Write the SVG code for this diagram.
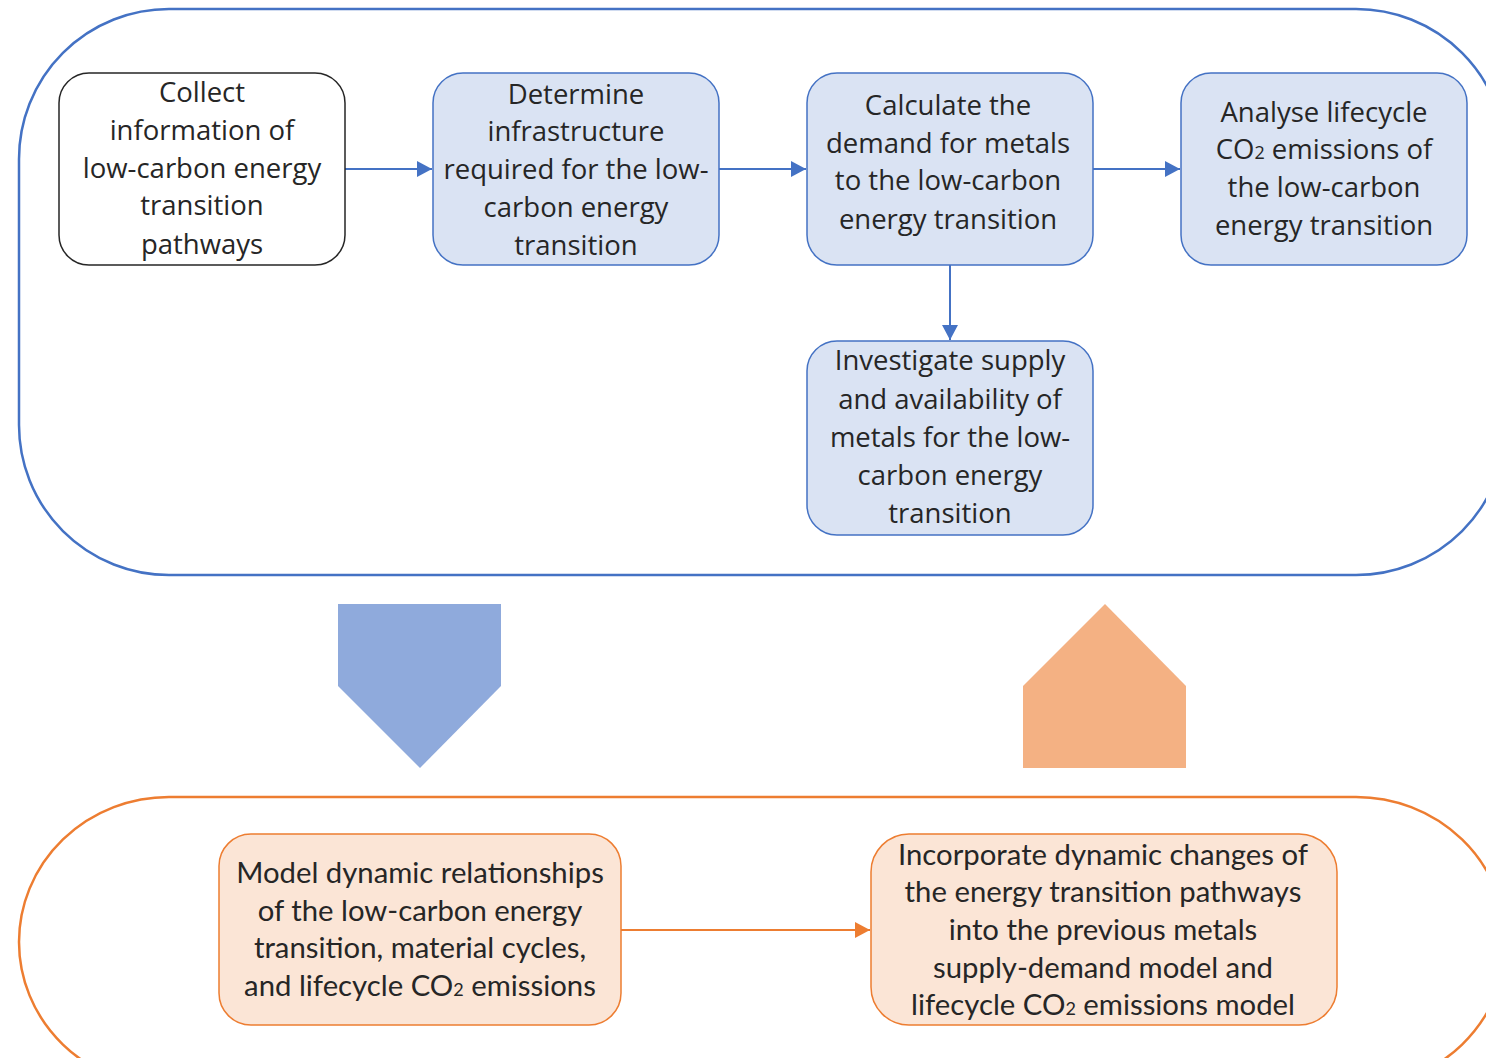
<svg xmlns="http://www.w3.org/2000/svg" width="1486" height="1058" viewBox="0 0 1486 1058">
<style>
.top{font-family:"Open Sans","Noto Sans",sans-serif;font-size:27.5px;fill:#262626;text-anchor:middle}
.bot{font-family:"Lato","Noto Sans",sans-serif;font-size:29.3px;fill:#262626;text-anchor:middle}
.bnode{fill:#dae3f3;stroke:#4472c4;stroke-width:1.5}
.onode{fill:#fbe5d6;stroke:#ed7d31;stroke-width:1.5}
.bl{stroke:#4472c4;stroke-width:2;fill:none}
.ol{stroke:#ed7d31;stroke-width:2;fill:none}
.sub{font-size:18px}
</style>
<defs>
<marker id="ab" markerUnits="userSpaceOnUse" markerWidth="18" markerHeight="18" refX="15" refY="8" orient="auto"><path d="M0,0 L15,8 L0,16 Z" fill="#4472c4"/></marker>
<marker id="ao" markerUnits="userSpaceOnUse" markerWidth="18" markerHeight="18" refX="15" refY="8" orient="auto"><path d="M0,0 L15,8 L0,16 Z" fill="#ed7d31"/></marker>
</defs>
<g id="containers">
<rect x="19" y="9" width="1487" height="566" rx="150" ry="150" fill="none" stroke="#4472c4" stroke-width="2.5"/>
<rect x="19" y="797" width="1487" height="290" rx="150" ry="145" fill="none" stroke="#ed7d31" stroke-width="2.5"/>
</g>
<g id="big-arrows">
<polygon points="338,604 501,604 501,686 420,768 338,686" fill="#8faadc"/>
<polygon points="1105,604 1186,686 1186,768 1023,768 1023,686" fill="#f4b183"/>
</g>
<g id="connectors">
<line class="bl" x1="345" y1="169" x2="432" y2="169" marker-end="url(#ab)"/>
<line class="bl" x1="719" y1="169" x2="806" y2="169" marker-end="url(#ab)"/>
<line class="bl" x1="1093" y1="169" x2="1180" y2="169" marker-end="url(#ab)"/>
<line class="bl" x1="950" y1="265" x2="950" y2="340" marker-end="url(#ab)"/>
<line class="ol" x1="621" y1="930" x2="870" y2="930" marker-end="url(#ao)"/>
</g>
<g id="n1">
<rect x="59" y="73" width="286" height="192" rx="30" fill="#fff" stroke="#262626" stroke-width="1.5"/>
<text class="top"><tspan x="202" y="102">Collect</tspan><tspan x="202" y="140">information of</tspan><tspan x="202" y="178">low-carbon energy</tspan><tspan x="202" y="215">transition</tspan><tspan x="202" y="254">pathways</tspan></text>
</g>
<g id="n2">
<rect class="bnode" x="433" y="73" width="286" height="192" rx="30"/>
<text class="top"><tspan x="576" y="104">Determine</tspan><tspan x="576" y="141">infrastructure</tspan><tspan x="576" y="179">required for the low-</tspan><tspan x="576" y="217">carbon energy</tspan><tspan x="576" y="255">transition</tspan></text>
</g>
<g id="n3">
<rect class="bnode" x="807" y="73" width="286" height="192" rx="30"/>
<text class="top"><tspan x="948" y="115">Calculate the</tspan><tspan x="948" y="153">demand for metals</tspan><tspan x="948" y="190">to the low-carbon</tspan><tspan x="948" y="229">energy transition</tspan></text>
</g>
<g id="n4">
<rect class="bnode" x="1181" y="73" width="286" height="192" rx="30"/>
<text class="top"><tspan x="1324" y="122">Analyse lifecycle</tspan><tspan x="1324" y="159">CO<tspan class="sub">2</tspan> emissions of</tspan><tspan x="1324" y="197">the low-carbon</tspan><tspan x="1324" y="235">energy transition</tspan></text>
</g>
<g id="n5">
<rect class="bnode" x="807" y="341" width="286" height="194" rx="30"/>
<text class="top"><tspan x="950" y="370">Investigate supply</tspan><tspan x="950" y="409">and availability of</tspan><tspan x="950" y="447">metals for the low-</tspan><tspan x="950" y="485">carbon energy</tspan><tspan x="950" y="523">transition</tspan></text>
</g>
<g id="n6">
<rect class="onode" x="219" y="834" width="402" height="191" rx="32"/>
<text class="bot"><tspan x="420" y="883">Model dynamic relationships</tspan><tspan x="420" y="921">of the low-carbon energy</tspan><tspan x="420" y="958">transition, material cycles,</tspan><tspan x="420" y="996">and lifecycle CO<tspan class="sub">2</tspan> emissions</tspan></text>
</g>
<g id="n7">
<rect class="onode" x="871" y="834" width="466" height="191" rx="38"/>
<text class="bot"><tspan x="1103" y="865">Incorporate dynamic changes of</tspan><tspan x="1103" y="902">the energy transition pathways</tspan><tspan x="1103" y="940">into the previous metals</tspan><tspan x="1103" y="978">supply-demand model and</tspan><tspan x="1103" y="1015">lifecycle CO<tspan class="sub">2</tspan> emissions model</tspan></text>
</g>
</svg>
